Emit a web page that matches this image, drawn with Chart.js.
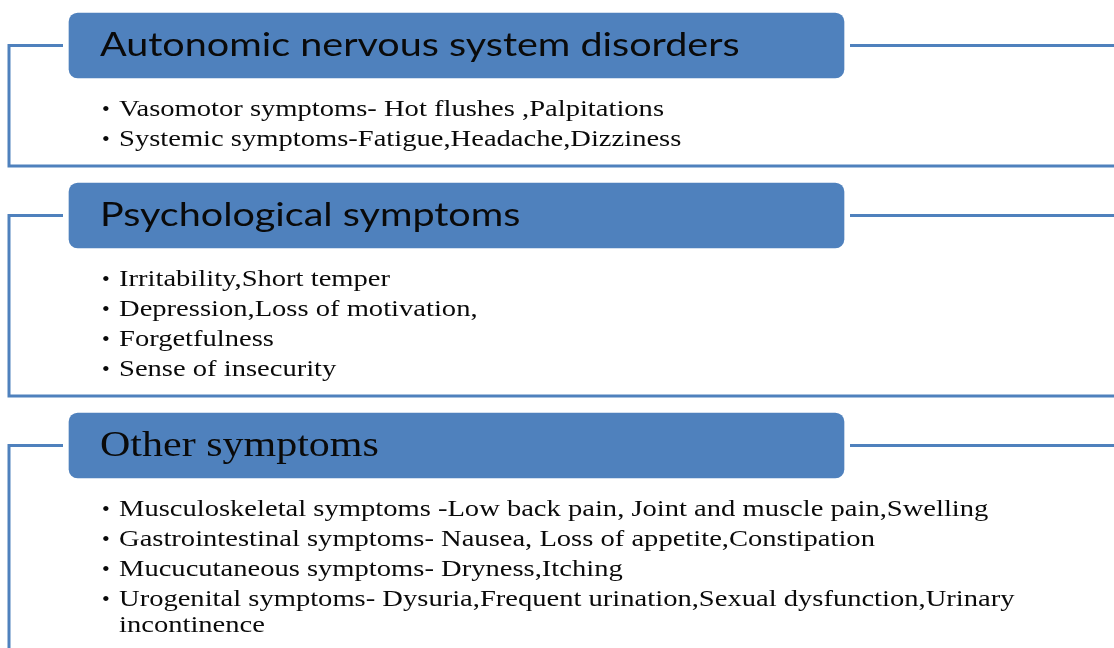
<!DOCTYPE html>
<html>
<head>
<meta charset="utf-8">
<script src="https://cdn.jsdelivr.net/npm/chart.js@4.4.0/dist/chart.umd.min.js"></script>
<style>
  html, body { margin: 0; padding: 0; background: #ffffff; }
  #wrap { width: 1114px; height: 648px; }
</style>
</head>
<body>
<div id="wrap"><canvas id="diagram"></canvas></div>
<script>
// text of the diagram
const headings = [
  'Autonomic nervous system disorders',
  'Psychological symptoms',
  'Other symptoms'
];
const autonomicItems = [
  'Vasomotor symptoms- Hot flushes ,Palpitations',
  'Systemic symptoms-Fatigue,Headache,Dizziness'
];
const psychologicalItems = [
  'Irritability,Short temper',
  'Depression,Loss of motivation,',
  'Forgetfulness',
  'Sense of insecurity'
];
const otherItems = [
  'Musculoskeletal symptoms -Low back pain, Joint and muscle pain,Swelling',
  'Gastrointestinal symptoms- Nausea, Loss of appetite,Constipation',
  'Mucucutaneous symptoms- Dryness,Itching',
  'Urogenital symptoms- Dysuria,Frequent urination,Sexual dysfunction,Urinary incontinence'
];
const itemLists = [autonomicItems, psychologicalItems, otherItems];

// layout (in scale units == px)
const W = 1114, H = 648;
const blue = '#4F81BD';
const boxLeft = 68, boxRight = 845, boxH = 67;
const bracketX = 9, stubEnd = 63, rightStart = 850;
const firstGap = 37, rowGap = 30, wrapGap = 26, bottomGap = 20, sectionGap = 16;
const bulletX = 102, textX = 119, wrapWidth = 905;
// the original text is a little stretched sideways
const headingFonts = [
  { font: '32px Lato', stretch: 1.235 },
  { font: '32px Lato', stretch: 1.235 },
  { font: '35px "Liberation Serif"', stretch: 1.2 }
];
const itemFont = '24px "Liberation Serif"';
const itemStretch = 1.19;

const mctx = document.createElement('canvas').getContext('2d');
mctx.font = itemFont;
const wrapText = (text) => {
  const words = text.split(' ');
  const lines = [];
  let cur = '';
  words.forEach(w => {
    const test = cur ? cur + ' ' + w : w;
    if (mctx.measureText(test).width * itemStretch > wrapWidth && cur) {
      lines.push(cur);
      cur = w;
    } else {
      cur = test;
    }
  });
  lines.push(cur);
  return lines;
};

let cursorY = 12;
const sections = headings.map((h, i) => {
  const center = cursorY + boxH / 2;
  let y = cursorY + boxH + firstGap - rowGap;
  const rows = [];
  itemLists[i].forEach(item => {
    wrapText(item).forEach((line, k) => {
      y += k === 0 ? rowGap : wrapGap;
      rows.push({ text: line, y: y, bullet: k === 0 });
    });
  });
  const bottom = y + bottomGap;
  cursorY = bottom + sectionGap;
  return { heading: h, hf: headingFonts[i], center, rows, bottom };
});

const bracketSets = sections.map(s => ({
  type: 'scatter',
  showLine: true,
  data: [
    { x: stubEnd, y: s.center },
    { x: bracketX, y: s.center },
    { x: bracketX, y: s.bottom },
    { x: W + 5, y: s.bottom }
  ],
  borderColor: blue,
  borderWidth: 3,
  pointRadius: 0,
  borderJoinStyle: 'miter'
}));
const rightSets = sections.map(s => ({
  type: 'scatter',
  showLine: true,
  data: [{ x: rightStart, y: s.center }, { x: W + 5, y: s.center }],
  borderColor: blue,
  borderWidth: 3,
  pointRadius: 0
}));

const drawStretched = (ctx, text, x, y, sx) => {
  ctx.save();
  ctx.translate(x, y);
  ctx.scale(sx, 1);
  ctx.fillText(text, 0, 0);
  ctx.restore();
};

const textPlugin = {
  id: 'diagramText',
  afterDatasetsDraw(chart) {
    const ctx = chart.ctx;
    const xs = chart.scales.x, ys = chart.scales.y;
    ctx.save();
    ctx.textBaseline = 'alphabetic';
    ctx.textAlign = 'left';
    ctx.fillStyle = '#0a0a0a';
    sections.forEach(s => {
      ctx.font = s.hf.font;
      drawStretched(ctx, s.heading, xs.getPixelForValue(boxLeft + 32), ys.getPixelForValue(s.center + 10), s.hf.stretch);
      s.rows.forEach(r => {
        if (r.bullet) {
          ctx.font = '22px "Liberation Serif"';
          ctx.fillText('\u2022', xs.getPixelForValue(bulletX), ys.getPixelForValue(r.y));
        }
        ctx.font = itemFont;
        drawStretched(ctx, r.text, xs.getPixelForValue(textX), ys.getPixelForValue(r.y), itemStretch);
      });
    });
    ctx.restore();
  }
};

new Chart(document.getElementById('diagram'), {
  type: 'scatter',
  data: {
    datasets: [
      ...bracketSets,
      ...rightSets,
      {
        type: 'bar',
        indexAxis: 'y',
        data: sections.map(s => ({ x: [boxLeft, boxRight], y: s.center })),
        backgroundColor: blue,
        borderColor: 'rgba(255,255,255,0.7)',
        borderWidth: 1,
        borderSkipped: false,
        borderRadius: 10,
        barThickness: boxH
      }
    ]
  },
  options: {
    responsive: true,
    maintainAspectRatio: false,
    animation: false,
    layout: { padding: 0 },
    scales: {
      x: { type: 'linear', min: 0, max: W, display: false, offset: false },
      y: { type: 'linear', min: 0, max: H, reverse: true, display: false, offset: false }
    },
    plugins: { legend: { display: false }, tooltip: { enabled: false } }
  },
  plugins: [textPlugin]
});
</script>
</body>
</html>
